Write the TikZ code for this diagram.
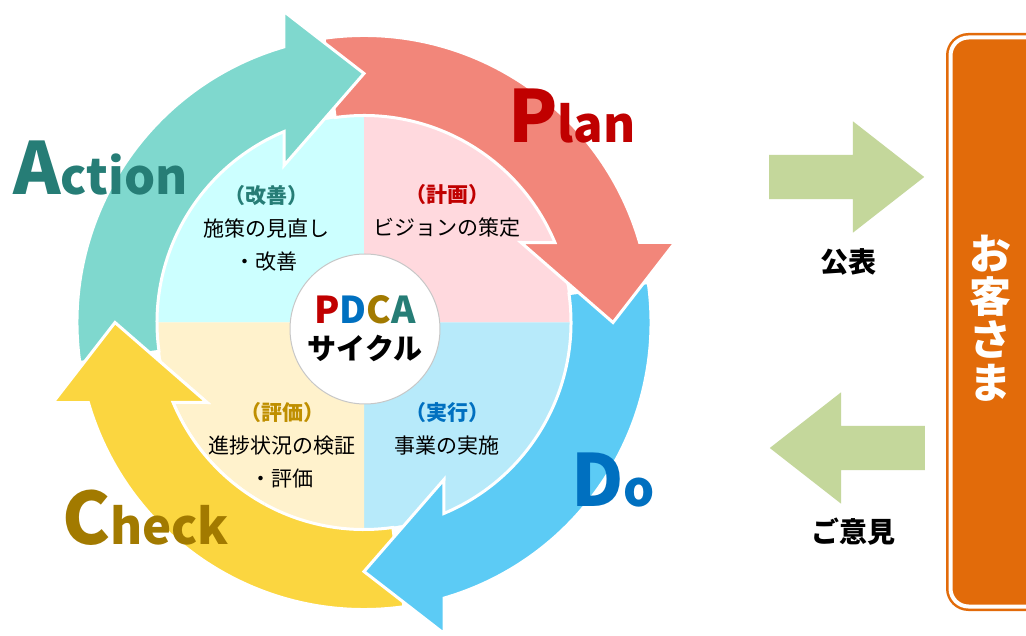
\documentclass[tikz,border=0pt]{standalone}
\usepackage{fontspec}
\setmainfont{Noto Sans CJK JP}
\usepackage{tikz}
\usetikzlibrary{positioning, shapes.arrows}
\usepackage{xcolor}

\definecolor{actfill}{HTML}{7FD8CE}
\definecolor{planfill}{HTML}{F2867A}
\definecolor{dofill}{HTML}{5CCBF5}
\definecolor{chkfill}{HTML}{FBD640}
\definecolor{actq}{HTML}{CCFFFF}
\definecolor{planq}{HTML}{FFD9DE}
\definecolor{doq}{HTML}{B7EAFA}
\definecolor{chkq}{HTML}{FFF2CC}
\definecolor{actword}{HTML}{267D76}
\definecolor{planword}{HTML}{C00000}
\definecolor{doword}{HTML}{0070C0}
\definecolor{chkword}{HTML}{A27A00}
\definecolor{chkhead}{HTML}{BF8F00}
\definecolor{leaf}{HTML}{C4D79B}
\definecolor{kyakuorange}{HTML}{E26B0A}

\pgfdeclareradialshading{btnshade}{\pgfpoint{0bp}{0bp}}{color(0bp)=(white); color(33bp)=(white); color(43bp)=(black!8); color(47bp)=(black!18); color(50bp)=(black!30)}

% one ring arrow round (0,0), head at the top
\newcommand{\cyclearrow}[1]{%
  \filldraw[fill=#1, draw=white, line width=3pt]
    (188:287) arc[start angle=188, end angle=106.2, radius=287]
    -- (-80,311) -- (0,249) -- (-80,157) -- (112.7:207)
    arc[start angle=112.7, end angle=188, radius=207] -- cycle;
}

\begin{document}
\begin{tikzpicture}[
        x=1pt, y=1pt,
        qtext/.style={font=\fontsize{21}{33}\selectfont, align=center, inner sep=0pt},
        bigword/.style={font=\fontsize{49}{49}\selectfont\bfseries, anchor=base west, inner sep=0pt},
        button/.style={circle, minimum size=150pt, shade, shading=btnshade, draw=black!22, line width=1pt, align=center, inner sep=0pt, font=\fontsize{29}{36}\selectfont\bfseries},
        leafarrow/.style={single arrow, fill=leaf, minimum height=155pt, single arrow head extend=33.5pt, single arrow tip angle=76, inner xsep=0pt, inner ysep=22pt, anchor=tail},
        sidelabel/.style={font=\fontsize{28}{28}\selectfont\bfseries},
        kyakubox/.style={rectangle, rounded corners=18pt, fill=kyakuorange, draw=kyakuorange, double=white, double distance=4pt, line width=2.5pt, minimum width=120pt, minimum height=569pt},
        custtext/.style={font=\fontsize{42}{43}\selectfont\bfseries, text=white, align=center, inner sep=0pt}
    ]

    \path[use as bounding box, fill=white] (0,0) rectangle (1026,635);

    \begin{scope}[shift={(364,312.5)}]
        % INNER DISK
        \fill[actq]  (0,0) -- (90:206)  arc[start angle=90,  end angle=180, radius=206] -- cycle;
        \fill[planq] (0,0) -- (0:206)   arc[start angle=0,   end angle=90,  radius=206] -- cycle;
        \fill[doq]   (0,0) -- (-90:206) arc[start angle=-90, end angle=0,   radius=206] -- cycle;
        \fill[chkq]  (0,0) -- (180:206) arc[start angle=180, end angle=270, radius=206] -- cycle;

        % RING ARROWS
        \begin{scope}[rotate=90]\cyclearrow{chkfill}\end{scope}
        \begin{scope}[rotate=180]\cyclearrow{dofill}\end{scope}
        \begin{scope}[rotate=-90]\cyclearrow{planfill}\end{scope}
        \cyclearrow{actfill}
        % check head again, over the action tail
        \begin{scope}
            \clip (-345,-200) rectangle (-100,25);
            \begin{scope}[rotate=90]\cyclearrow{chkfill}\end{scope}
        \end{scope}
    \end{scope}

    % PDCA CENTRE
    \node[button] (pdca) at (365,306) {{\fontsize{37}{37}\selectfont\textcolor{planword}{P}\textcolor{doword}{D}\textcolor{chkword}{C}\textcolor{actword}{A}}\\サイクル};

    % QUADRANT TEXTS
    \node[qtext] (kaizen) at (266,407) {{\bfseries\color{actword}（改善）}\\施策の見直し\\・改善};
    \node[qtext] (keikaku) at (447,424) {{\bfseries\color{planword}（計画）}\\ビジョンの策定};
    \node[qtext] (hyoka) at (282,190) {{\bfseries\color{chkhead}（評価）}\\進捗状況の検証\\・評価};
    \node[qtext] (jikko) at (447,206.5) {{\bfseries\color{doword}（実行）}\\事業の実施};

    % BIG WORDS
    \node[bigword, text=actword] (action) at (13,440) {{\fontsize{72}{72}\selectfont A}ction};
    \node[bigword, text=planword] (plan) at (508,492) {{\fontsize{72}{72}\selectfont P}lan};
    \node[bigword, text=doword] (do) at (571,128) {{\fontsize{72}{72}\selectfont D}o};
    \node[bigword, text=chkword] (check) at (62,90) {{\fontsize{72}{72}\selectfont C}heck};

    % PUBLICATION AND FEEDBACK
    \node[leafarrow] (koho) at (769,458) {};
    \node[leafarrow, shape border rotate=180] (iken) at (925,187) {};
    \node[sidelabel] (kohotxt) at (848,373) {公表};
    \node[sidelabel] (ikentxt) at (853,103) {ご意見};

    % CUSTOMERS
    \node[kyakubox] (kyaku) at (1010.5,313) {};
    \node[custtext] (kyakutxt) at ([xshift=41.5pt, yshift=4pt]kyaku.west) {お\\客\\さ\\ま};
\end{tikzpicture}
\end{document}
